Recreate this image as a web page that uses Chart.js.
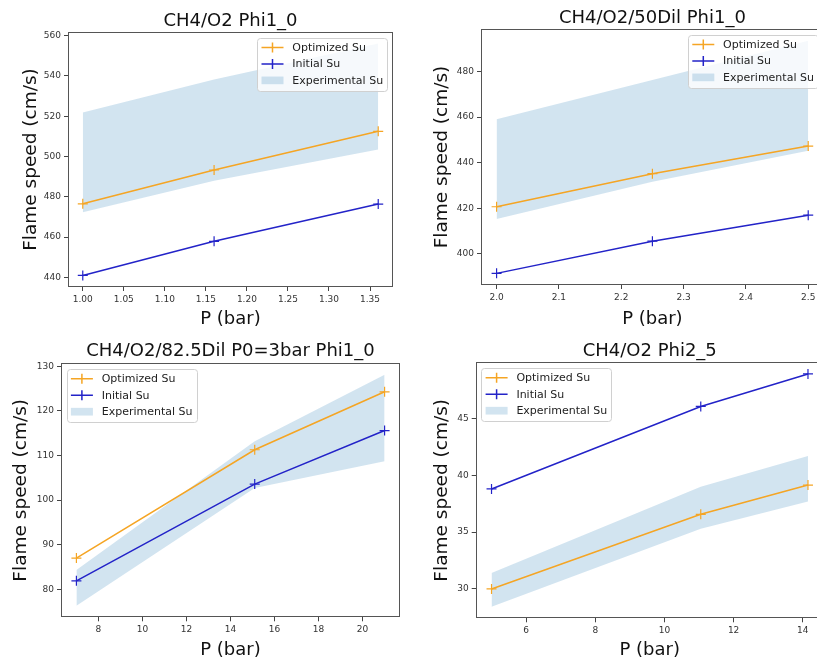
<!DOCTYPE html>
<html>
<head>
<meta charset="utf-8">
<title>Flame speed panels</title>
<script src="https://cdn.jsdelivr.net/npm/chart.js@4.4.1/dist/chart.umd.min.js"></script>
<style>
  html, body { margin: 0; padding: 0; background: #fff; overflow: hidden; width: 817px; height: 661px; }
  .panel { position: absolute; }
</style>
</head>
<body>
<div class="panel" style="left:0;top:0"><canvas id="c1" width="410" height="330"></canvas></div>
<div class="panel" style="left:410px;top:0"><canvas id="c2" width="420" height="330"></canvas></div>
<div class="panel" style="left:0;top:330px"><canvas id="c3" width="410" height="331"></canvas></div>
<div class="panel" style="left:410px;top:330px"><canvas id="c4" width="420" height="331"></canvas></div>
<script>
// CH4/O2 Phi1_0
const p1Pressure = [1.0, 1.16, 1.36];
const p1Optimized = [476.5, 493.3, 512.5];
const p1Initial = [441.0, 457.9, 476.4];
const p1ExpLow = [472.3, 488.0, 503.4];
const p1ExpHigh = [521.8, 538.2, 556.0];
const p1XTicks = ["1.00", "1.05", "1.10", "1.15", "1.20", "1.25", "1.30", "1.35"];
const p1YTicks = ["440", "460", "480", "500", "520", "540", "560"];

// CH4/O2/50Dil Phi1_0
const p2Pressure = [2.0, 2.25, 2.5];
const p2Optimized = [420.7, 435.2, 447.3];
const p2Initial = [391.5, 405.6, 417.0];
const p2ExpLow = [415.3, 431.6, 445.2];
const p2ExpHigh = [459.0, 476.2, 493.5];
const p2XTicks = ["2.0", "2.1", "2.2", "2.3", "2.4", "2.5"];
const p2YTicks = ["400", "420", "440", "460", "480"];

// CH4/O2/82.5Dil P0=3bar Phi1_0
const p3Pressure = [7.0, 15.1, 21.0];
const p3Optimized = [87.0, 111.3, 124.3];
const p3Initial = [81.9, 103.6, 115.6];
const p3ExpLow = [76.3, 102.7, 108.7];
const p3ExpHigh = [84.3, 113.2, 128.1];
const p3XTicks = ["8", "10", "12", "14", "16", "18", "20"];
const p3YTicks = ["80", "90", "100", "110", "120", "130"];

// CH4/O2 Phi2_5
const p4Pressure = [5.0, 11.05, 14.15];
const p4Optimized = [30.0, 36.57, 39.14];
const p4Initial = [38.8, 46.06, 48.92];
const p4ExpLow = [28.44, 35.3, 37.7];
const p4ExpHigh = [31.41, 39.0, 41.7];
const p4XTicks = ["6", "8", "10", "12", "14"];
const p4YTicks = ["30", "35", "40", "45"];

const ORANGE = "#f5a524";
const BLUE = "#2323c8";
const BAND = "rgba(31, 119, 180, 0.2)";
const FONT = "'DejaVu Sans', 'Liberation Sans', sans-serif";

// matplotlib style autoscale: 5% margin on each side
function withMargin(values) {
  const lo = Math.min(...values);
  const hi = Math.max(...values);
  const m = (hi - lo) * 0.05;
  return [lo - m, hi + m];
}

function pts(xs, ys) {
  return xs.map((x, i) => ({ x: x, y: ys[i] }));
}

// spines on all four sides
const axesFrame = {
  id: "axesFrame",
  afterDatasetsDraw(chart) {
    const { ctx, chartArea: a } = chart;
    ctx.save();
    ctx.strokeStyle = "#555";
    ctx.lineWidth = 1;
    ctx.strokeRect(Math.round(a.left) + 0.5, Math.round(a.top) + 0.5,
      Math.round(a.right - a.left) - 1, Math.round(a.bottom - a.top) - 1);
    ctx.restore();
  },
};

// legend drawn inside the axes, like matplotlib
const insideLegend = {
  id: "insideLegend",
  afterDraw(chart, args, opts) {
    const { ctx, chartArea: a } = chart;
    const fs = opts.fontSize || 11;
    const items = chart.data.datasets.filter((d) => d.label);
    ctx.save();
    ctx.font = fs + "px " + FONT;
    const textW = Math.max(...items.map((d) => ctx.measureText(d.label).width));
    const pad = 0.4 * fs, handle = 2 * fs, gap = 0.8 * fs, rowGap = 0.5 * fs, inset = 0.5 * fs;
    const w = pad * 2 + handle + gap + textW;
    const h = pad * 2 + items.length * fs + (items.length - 1) * rowGap;
    const x = opts.corner === "left" ? a.left + inset : a.right - inset - w;
    const y = a.top + inset;

    ctx.beginPath();
    ctx.roundRect(Math.round(x) + 0.5, Math.round(y) + 0.5, Math.round(w), Math.round(h), 3);
    ctx.fillStyle = "rgba(255,255,255,0.8)";
    ctx.fill();
    ctx.strokeStyle = "#d0d0d0";
    ctx.lineWidth = 1;
    ctx.stroke();

    items.forEach((d, i) => {
      const cy = y + pad + fs / 2 + i * (fs + rowGap);
      const hx = x + pad;
      if (d.fill) {
        ctx.fillStyle = d.backgroundColor;
        ctx.fillRect(hx, cy - 0.35 * fs, handle, 0.7 * fs);
      } else {
        ctx.strokeStyle = d.borderColor;
        ctx.lineWidth = d.borderWidth;
        ctx.beginPath();
        ctx.moveTo(hx, cy);
        ctx.lineTo(hx + handle, cy);
        const mx = hx + handle / 2, r = d.pointRadius;
        ctx.moveTo(mx, cy - r);
        ctx.lineTo(mx, cy + r);
        ctx.stroke();
      }
      ctx.fillStyle = "#222";
      ctx.textBaseline = "middle";
      ctx.fillText(d.label, hx + handle + gap, cy + 0.5);
    });
    ctx.restore();
  },
};

function makePanel(id, p) {
  const xRange = withMargin(p.x);
  const yRange = withMargin([...p.initial, ...p.optimized, ...p.low, ...p.high]);

  const lineStyle = (color) => ({
    borderColor: color,
    backgroundColor: color,
    borderWidth: 1.5,
    pointStyle: "cross",
    pointRadius: 5,
    pointBorderWidth: 1.2,
    fill: false,
    tension: 0,
    order: 1,
  });

  const tickFont = { family: FONT, size: 9 };

  new Chart(document.getElementById(id), {
    type: "line",
    data: {
      datasets: [
        { label: "Optimized Su", data: pts(p.x, p.optimized), ...lineStyle(ORANGE) },
        { label: "Initial Su", data: pts(p.x, p.initial), ...lineStyle(BLUE) },
        {
          label: "", data: pts(p.x, p.low),
          borderWidth: 0, pointRadius: 0, fill: false, order: 3,
        },
        {
          label: "Experimental Su", data: pts(p.x, p.high),
          borderWidth: 0, pointRadius: 0, fill: "-1",
          backgroundColor: BAND, borderColor: BAND, order: 2,
        },
      ],
    },
    options: {
      responsive: false,
      animation: false,
      devicePixelRatio: 1,
      layout: { padding: { left: 0, top: 0, right: p.padRight, bottom: 0 } },
      plugins: {
        legend: { display: false },
        tooltip: { enabled: false },
        title: {
          display: true,
          text: p.title,
          fullSize: false,
          color: "#111",
          font: { family: FONT, size: 18, weight: "normal" },
          padding: { top: p.titlePad, bottom: p.titleGap },
        },
        insideLegend: { corner: p.legendCorner, fontSize: 11 },
      },
      scales: {
        x: {
          type: "linear",
          min: xRange[0],
          max: xRange[1],
          afterFit: (s) => { s.height = p.xAxisHeight; },
          afterBuildTicks: (s) => { s.ticks = p.xTicks.map((t) => ({ value: parseFloat(t) })); },
          ticks: {
            callback: (v, i) => p.xTicks[i],
            font: tickFont, color: "#333", padding: 3, maxRotation: 0, autoSkip: false,
          },
          grid: { drawOnChartArea: false, drawTicks: true, tickLength: 4, color: "#444" },
          border: { display: false },
          title: {
            display: true, text: "P (bar)", color: "#111",
            font: { family: FONT, size: 18 },
            padding: { top: p.xTitlePad, bottom: 0 },
          },
        },
        y: {
          type: "linear",
          min: yRange[0],
          max: yRange[1],
          afterFit: (s) => { s.width = p.yAxisWidth; },
          afterBuildTicks: (s) => { s.ticks = p.yTicks.map((t) => ({ value: parseFloat(t) })); },
          ticks: {
            callback: (v, i) => p.yTicks[i],
            font: tickFont, color: "#333", padding: 3, autoSkip: false,
          },
          grid: { drawOnChartArea: false, drawTicks: true, tickLength: 4, color: "#444" },
          border: { display: false },
          title: {
            display: true, text: "Flame speed (cm/s)", color: "#111",
            font: { family: FONT, size: 18.5 },
            padding: { top: p.yTitlePad, bottom: 0 },
          },
        },
      },
    },
    plugins: [axesFrame, insideLegend],
  });
}

makePanel("c1", {
  title: "CH4/O2 Phi1_0",
  x: p1Pressure, optimized: p1Optimized, initial: p1Initial, low: p1ExpLow, high: p1ExpHigh,
  xTicks: p1XTicks, yTicks: p1YTicks,
  yAxisWidth: 68, xAxisHeight: 43, padRight: 17,
  titlePad: 10.4, titleGap: 0, xTitlePad: 1.4, yTitlePad: 20.5,
  legendCorner: "right",
});

makePanel("c2", {
  title: "CH4/O2/50Dil Phi1_0",
  x: p2Pressure, optimized: p2Optimized, initial: p2Initial, low: p2ExpLow, high: p2ExpHigh,
  xTicks: p2XTicks, yTicks: p2YTicks,
  yAxisWidth: 71, xAxisHeight: 45, padRight: 6,
  titlePad: 7.4, titleGap: 0, xTitlePad: 3, yTitlePad: 20.8,
  legendCorner: "right",
});

makePanel("c3", {
  title: "CH4/O2/82.5Dil P0=3bar Phi1_0",
  x: p3Pressure, optimized: p3Optimized, initial: p3Initial, low: p3ExpLow, high: p3ExpHigh,
  xTicks: p3XTicks, yTicks: p3YTicks,
  yAxisWidth: 61, xAxisHeight: 43.7, padRight: 10,
  titlePad: 10.4, titleGap: 1.3, xTitlePad: 0.7, yTitlePad: 10.2,
  legendCorner: "left",
});

makePanel("c4", {
  title: "CH4/O2 Phi2_5",
  x: p4Pressure, optimized: p4Optimized, initial: p4Initial, low: p4ExpLow, high: p4ExpHigh,
  xTicks: p4XTicks, yTicks: p4YTicks,
  yAxisWidth: 65.7, xAxisHeight: 42.7, padRight: 3.7,
  titlePad: 10.7, titleGap: 0, xTitlePad: 1.7, yTitlePad: 20.8,
  legendCorner: "left",
});
</script>
</body>
</html>
